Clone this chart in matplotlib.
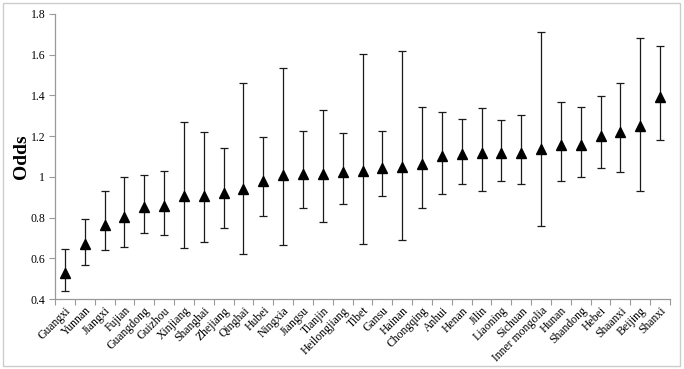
import matplotlib
matplotlib.use("Agg")
import matplotlib.pyplot as plt
from matplotlib.patches import Rectangle
import numpy as np

provinces = ["Guangxi", "Yunnan", "Jiangxi", "Fujian", "Guangdong", "Guizhou",
             "Xinjiang", "Shanghai", "Zhejiang", "Qinghai", "Hubei", "Ningxia",
             "Jiangsu", "Tianjin", "Heilongjiang", "Tibet", "Gansu", "Hainan",
             "Chongqing", "Anhui", "Henan", "Jilin", "Liaoning", "Sichuan",
             "Inner mongolia", "Hunan", "Shandong", "Hebei", "Shaanxi",
             "Beijing", "Shanxi"]
odds = [0.53, 0.67, 0.765, 0.805, 0.85, 0.855, 0.905, 0.905, 0.92, 0.94,
        0.98, 1.01, 1.015, 1.015, 1.025, 1.03, 1.045, 1.05, 1.065, 1.10,
        1.11, 1.115, 1.115, 1.115, 1.135, 1.155, 1.155, 1.20, 1.22, 1.25, 1.39]
lower = [0.44, 0.565, 0.64, 0.655, 0.725, 0.715, 0.65, 0.68, 0.75, 0.62,
         0.81, 0.665, 0.845, 0.78, 0.865, 0.67, 0.905, 0.69, 0.845, 0.915,
         0.965, 0.93, 0.98, 0.965, 0.76, 0.98, 1.0, 1.045, 1.025, 0.93, 1.18]
upper = [0.645, 0.795, 0.93, 1.0, 1.01, 1.03, 1.27, 1.22, 1.14, 1.46,
         1.195, 1.535, 1.225, 1.33, 1.215, 1.605, 1.225, 1.62, 1.345, 1.32,
         1.285, 1.34, 1.28, 1.305, 1.71, 1.37, 1.345, 1.395, 1.46, 1.68, 1.645]
yticks = [0.4, 0.6, 0.8, 1.0, 1.2, 1.4, 1.6, 1.8]
ytick_labels = ["0.4", "0.6", "0.8", "1", "1.2", "1.4", "1.6", "1.8"]

plt.rcParams['font.family'] = ['Liberation Serif', 'DejaVu Serif']

W, H = 684, 369
fig = plt.figure(figsize=(W / 100, H / 100), dpi=100)
ax = fig.add_axes([55 / W, 1 - 299 / H, (670 - 55) / W, (299 - 14) / H])

x = np.arange(len(provinces))
odds_a = np.array(odds)
err = [odds_a - np.array(lower), np.array(upper) - odds_a]
ax.errorbar(x, odds_a, yerr=err, fmt='none', ecolor='#1a1a1a', elinewidth=0.9,
            capsize=2.8, capthick=0.9, zorder=2)
ax.plot(x, odds_a, linestyle='none', marker='^', markersize=7.5,
        color='black', zorder=3)

ax.set_xlim(-0.5, len(provinces) - 0.5)
ax.set_ylim(0.4, 1.8)
ax.set_yticks(yticks)
ax.set_yticklabels(ytick_labels, fontsize=8.5)
ax.set_xticks(x)
ax.set_xticklabels(provinces, rotation=45, ha='right', rotation_mode='anchor',
                   fontsize=8.5)
ax.tick_params(axis='x', which='major', length=0, pad=4)
ax.set_xticks(np.arange(len(provinces) + 1) - 0.5, minor=True)
ax.tick_params(axis='x', which='minor', length=4, color='#999999', width=0.8)
ax.tick_params(axis='y', length=4, color='#999999', width=0.8, pad=3)

for s in ['top', 'right']:
    ax.spines[s].set_visible(False)
for s in ['left', 'bottom']:
    ax.spines[s].set_color('#999999')
    ax.spines[s].set_linewidth(0.9)

ax.set_ylabel("Odds", fontsize=14, fontweight='bold')
ax.yaxis.set_label_coords((30 - 55) / (670 - 55), 0.5)

fig.patches.append(Rectangle((2.5 / W, 3 / H), (680 - 2.5) / W, (366 - 3) / H,
                             transform=fig.transFigure, fill=False,
                             edgecolor='#cccccc', linewidth=1.0))

fig.savefig("out.png", dpi=100)
